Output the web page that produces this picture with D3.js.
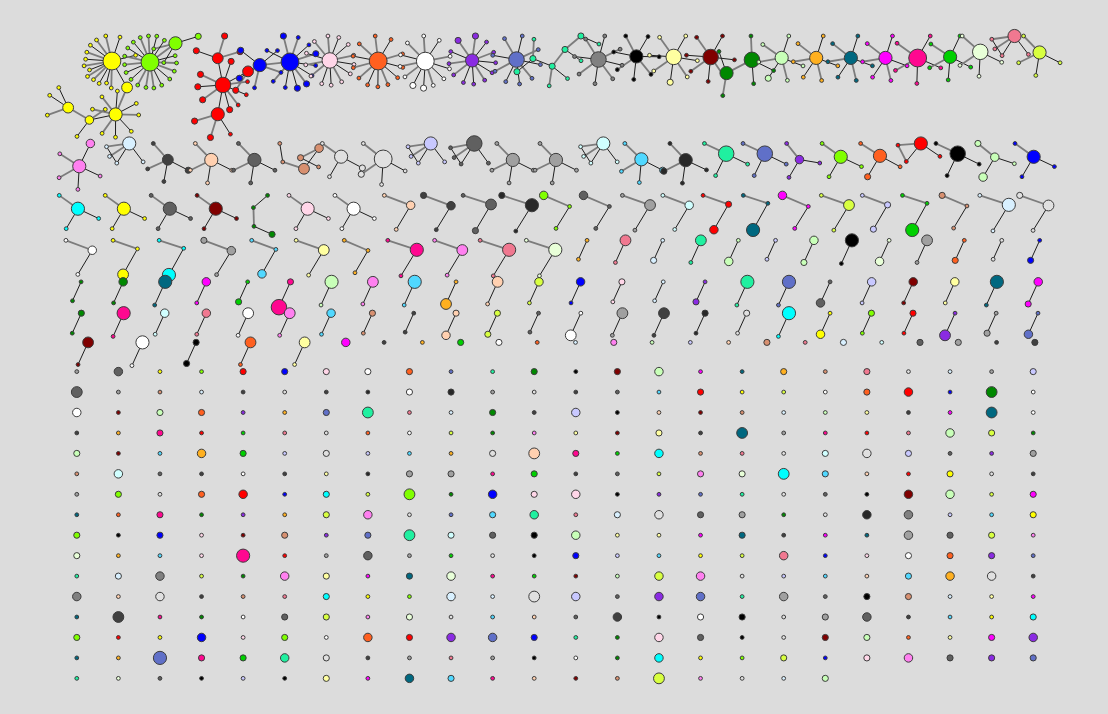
<!DOCTYPE html>
<html>
<head>
<meta charset="utf-8">
<style>
  html, body { margin: 0; padding: 0; background: #dcdcdc; }
  svg { display: block; }
  .node { stroke: #3c3c3c; stroke-width: 1; }
</style>
</head>
<body>
<div id="chart"></div>
<script src="https://cdn.jsdelivr.net/npm/d3@7"></script>
<script>
const width = 1108;
const height = 714;

// colour categories used by the nodes
const categories = ["Y","L","R","B","P","O","W","V","S","A","G","g","K","y","l","M","o","T","m","D",
  "E","h","s","Z","v","b","d","p","n","w","a","c","k","e","j","i","f"];
const categoryColors = ["#ffff00","#80ff00","#ff0000","#0000ff","#ffd6e8","#ff6020","#ffffff","#8a2be2",
  "#6070c8","#20f0a0","#008800","#808080","#000000","#ffffa0","#c8ffb8","#800000","#ffb020","#006880",
  "#ff00ff","#ff0890","#00d000","#e8ffd8","#f07890","#d8ff40","#ff80f0","#d8f0ff","#404040","#ffd0b0",
  "#d89070","#e0e0e0","#c8c8ff","#00ffff","#50d8ff","#a0a0a0","#282828","#d0ffff","#606060"];

// large clusters: colour, then hubs "size:leafSizes" chained in order ("^" = joined to first hub),
// "~sizes" = a chain of nodes, "t" = first two leaves also joined
const largeClusters = [
  "Y 7:11111111111111 4: 5:11111111 3:11 4:111",
  "L 5:112 7:111111111111111111",
  "R 6:22122121 5:212 ^4:2 ^4:222",
  "B 7:22111212111 5:11212",
  "P 6:1111111111111",
  "O 7:111111111111",
  "W 7:211111112111",
  "V 5:121111111211",
  "S 6:111111111",
  "A 2:1 2:1 2:11 2:1 2:",
  "g 6:11111111",
  "K 5:1111111",
  "y 6:2111111",
  "M 6:1111111",
  "G 6:111 5:11",
  "l 5:211111",
  "o 5:111111",
  "T 5:111111",
  "m 5:111111",
  "D 7:11111",
  "E 5:11111",
  "h 6:1111",
  "s 5:1111 t",
  "Z 5:1111"
];

const smallClusters = [
  "v 5:11113", "b 5:1111 t", "d 4:1121", "p 5:1111", "f 5:1111", "n ~123411",
  "w 5:112", "w 7:1112", "a 5:1111 t", "f 6:1111 t", "e 5:1111", "e 5:1111",
  "i 5:1111 t", "k 5:1121", "j 5:1112", "A 6:111", "S 6:111", "V 3:111",
  "L 5:111", "O 5:211", "R 5:111 t", "K 6:111", "l 3:321", "B 5:111",
  "c 5:111", "Y 5:111", "f 5:111", "M 5:111", "G ~2111", "P 5:111", "W 5:111"
];

// three-node components: colour, hub size, lower leaf size, upper leaf size
const triads = [
  "p 3 1 1", "d 3 1 2", "f 4 2 1", "j 5 1 2", "L 1 1 3", "f 1 1 3", "e 4 1 1", "i 3 1 1", "R 2 3 1",
  "T 1 5 1", "m 1 1 3", "Z 4 1 1", "a 2 2 1", "E 1 5 1", "n 1 1 2", "b 5 1 1", "w 4 1 2",
  "W 3 1 1", "Y 1 4 1", "c 1 5 1", "e 3 1 2", "k 1 3 1", "y 4 1 1", "o 1 1 1", "D 5 1 1",
  "v 4 1 1", "s 5 1 1", "h 5 1 1"
];

// two-node components: colour, upper node size, lower node size
const pairs = [
  "o 1 1", "s 4 1", "b 1 2", "A 4 1", "l 1 3", "a 1 1", "l 3 2", "K 5 1", "h 1 3", "e 4 1", "O 1 2", "w 1 1", "B 1 2",
  "G 1 1", "G 3 1", "T 5 1", "m 3 1", "E 1 2", "D 2 6", "l 5 1", "v 4 1", "k 5 1", "o 1 4", "p 4 1", "Z 3 1",
  "B 3 1", "P 2 1", "b 1 1", "V 1 2", "A 5 1", "S 5 1", "f 1 3", "a 3 1", "M 3 1", "y 3 1", "T 5 1", "m 3 2",
  "G 2 1", "D 5 1", "i 3 1", "s 3 1", "W 4 1", "v 4 1", "k 3 1", "n 2 1", "d 1 1", "p 2 3", "Z 2 2", "f 1 1",
  "W 1 4", "e 4 1", "d 4 1", "j 2 1", "w 2 1", "c 5 1", "Y 1 3", "L 2 1", "R 2 1", "V 1 4", "e 1 2", "S 1 3",
  "M 4 1", "W 5 1", "K 2 2", "O 4 1", "y 4 1"
];

// isolated nodes: colour + size
const singletonRows = [
  "m3 d1 o1 E2 W2 O1 b1 v2 l1 a1 p1 n2 s1 b2 i1 f2 e2 d1 d2",
  "e1 f3 Y1 L1 R2 B2 P2 W2 O2 S1 A1 G2 K1 M2 l3 m1 T1 o2 n1 s2 w1 b1 e1 a2",
  "f4 e1 n1 b1 d1 w1 d1 j1 W2 j2 e1 w1 d1 f1 k1 R2 Y1 Z1 W1 O2 R3 B1 G4 W1",
  "W3 M1 l2 O2 V1 o1 S2 A4 s1 b1 G2 d1 a3 K1 p1 M1 n1 b1 l1 y1 d1 m1 T4 W1",
  "d1 o1 D2 R1 E1 s1 w1 O1 W1 Z1 G1 v1 y1 M1 y2 d1 T4 e1 D1 R1 s1 l3 Z2 G1",
  "l2 M1 k1 o3 E2 a1 w2 a1 k1 o1 w2 p4 D2 E1 c3 n1 s1 w1 i2 w3 a2 f1 V1 e2",
  "n1 i3 f1 d1 W1 d1 y1 j1 e2 e2 D1 E2 d1 f1 Z1 v2 h2 c4 k2 p1 R1 Y2 w1 d1",
  "e1 L2 w1 O2 R3 B1 c2 Z1 L4 G1 B3 P2 P3 K1 V1 S1 A1 w1 f1 K1 M3 l3 Z1 m2",
  "T1 O1 D2 G1 V1 o1 Z2 v3 w1 S1 k2 A3 s1 b2 w3 f2 e2 G1 w1 j3 g3 a1 k1 Y2",
  "L2 K1 B2 P1 M1 n2 V1 S2 A4 i2 f2 K2 l3 y1 y1 m1 T2 d1 m1 T1 e3 f2 Z2 v1",
  "h2 o1 k1 P1 D5 R1 e1 f3 e1 E1 w1 K1 B2 a1 k1 Y1 Z1 s3 B1 P1 W2 O2 V2 S1",
  "A1 b2 g3 Z1 G1 v3 y2 m1 T2 h3 D1 E1 M1 l1 Z3 v3 w1 a1 k1 p1 k2 o3 w3 d1",
  "g3 p1 w3 d1 n1 s1 c2 Y1 L1 b3 b1 w4 a3 f1 V3 S3 A1 e3 f1 K2 n2 b1 y1 m1",
  "T1 d4 D1 G1 W1 f2 Z2 v1 h2 w1 k1 p1 f1 d3 K1 W2 K2 w1 e2 f3 d1 k1 Y1 c2",
  "L2 R1 Y1 B3 P1 L2 W1 O3 R2 V3 S3 B2 A1 G1 P3 f2 K1 w1 M2 l2 O1 y1 m2 V3",
  "T1 o1 S5 D2 E2 A3 w2 d1 e1 s1 e1 K1 W1 G1 c3 Y1 L1 Z2 B1 P2 v3 f2 V2 S2",
  "A1 h1 f1 K1 a1 K1 y2 m1 T3 k2 D1 p1 M1 n1 Z4 v1 w1 b1 l2"
];

const color = d3.scaleOrdinal().domain(categories).range(categoryColors);
const radius = d3.scaleLinear().domain([1, 8]).range([1.9, 10.1]);

function buildCluster(spec) {
  const [cat, ...tokens] = spec.split(" ");
  const nodes = [], links = [];
  let firstHub = -1, prevHub = -1, triangle = false;
  const firstLeaves = [];
  tokens.forEach(tok => {
    if (tok === "t") { triangle = true; return; }
    if (tok[0] === "~") {
      let prev = -1;
      for (const ch of tok.slice(1)) {
        const id = nodes.length;
        nodes.push({cat, size: +ch});
        if (prev >= 0) links.push({source: prev, target: id});
        prev = id;
      }
      return;
    }
    const toFirst = tok[0] === "^";
    const [hubSize, leaves] = tok.replace("^", "").split(":");
    const hub = nodes.length;
    nodes.push({cat, size: +hubSize});
    if (prevHub >= 0) links.push({source: toFirst ? firstHub : prevHub, target: hub});
    if (firstHub < 0) firstHub = hub;
    prevHub = hub;
    for (const ch of leaves || "") {
      const id = nodes.length;
      nodes.push({cat, size: +ch});
      links.push({source: hub, target: id});
      if (hub === firstHub) firstLeaves.push(id);
    }
  });
  if (triangle) links.push({source: firstLeaves[0], target: firstLeaves[1]});
  return {nodes, links};
}

function buildStar(spec) {
  const [cat, ...sizes] = spec.split(" ");
  const nodes = sizes.map(s => ({cat, size: +s}));
  const links = nodes.slice(1).map((d, i) => ({source: 0, target: i + 1}));
  return {nodes, links};
}

const components = [
  ...largeClusters.map(buildCluster),
  ...smallClusters.map(buildCluster),
  ...triads.map(buildStar),
  ...pairs.map(buildStar),
  ...singletonRows.join(" ").split(" ").map(t => ({nodes: [{cat: t[0], size: +t.slice(1)}], links: []}))
];

// lay out every component on its own, then tilt them all the same way
const tilt = -38.4 * Math.PI / 180;
components.forEach(comp => {
  const n = comp.nodes.length;
  comp.nodes.forEach(d => d.r = radius(d.size));
  if (n > 1) {
    const base = n === 2 ? 17 : n === 3 ? 22 : 14;
    const sim = d3.forceSimulation(comp.nodes)
      .force("link", d3.forceLink(comp.links)
        .distance(l => base + l.source.r + l.target.r)
        .strength(1)
        .iterations(2))
      .stop();
    if (n > 3) {
      sim.force("charge", d3.forceManyBody().strength(-12).distanceMax(34))
        .force("collide", d3.forceCollide(d => d.r + 1.5));
    }
    sim.tick(300);
  } else {
    comp.nodes[0].x = 0;
    comp.nodes[0].y = 0;
  }
  comp.nodes.forEach(d => {
    const x = d.x, y = d.y;
    d.x = x * Math.cos(tilt) - y * Math.sin(tilt);
    d.y = x * Math.sin(tilt) + y * Math.cos(tilt);
  });
  [comp.x0, comp.x1] = d3.extent(comp.nodes, d => d.x);
  [comp.y0, comp.y1] = d3.extent(comp.nodes, d => d.y);
});

// rows of 24, slot width grows with sqrt of the component size
const perRow = 24;
const xLeft = 56, xRight = 1054;
let rowTop = 36;
let unit = 0;
d3.range(0, components.length, perRow).forEach(start => {
  const row = components.slice(start, start + perRow);
  const weights = row.map(c => Math.sqrt(c.nodes.length));
  if (row.length === perRow) unit = (xRight - xLeft) / d3.sum(weights);
  let x = xLeft;
  row.forEach((c, i) => {
    const w = weights[i] * unit;
    c.ox = x + w / 2 - (c.x0 + c.x1) / 2;
    c.oy = rowTop - c.y0;
    x += w;
  });
  rowTop += Math.max(20.45, d3.max(row, c => c.y1 - c.y0) + 6);
});

const allNodes = [], allLinks = [];
components.forEach(c => {
  c.nodes.forEach(d => { d.px = d.x + c.ox; d.py = d.y + c.oy; allNodes.push(d); });
  c.links.forEach((l, i) => { l.k = i; allLinks.push(l); });
});

const svg = d3.select("#chart")
  .append("svg")
  .attr("width", width)
  .attr("height", height);

svg.append("rect")
  .attr("width", width)
  .attr("height", height)
  .attr("fill", "#dcdcdc");

svg.append("g")
  .selectAll("line")
  .data(allLinks)
  .join("line")
  .attr("x1", d => d.source.px)
  .attr("y1", d => d.source.py)
  .attr("x2", d => d.target.px)
  .attr("y2", d => d.target.py)
  .attr("stroke", d => d.k % 2 ? "#7c7c7c" : "#1e1e1e")
  .attr("stroke-width", d => d.k % 2 ? 1.8 : 1);

svg.append("g")
  .selectAll("circle")
  .data(allNodes)
  .join("circle")
  .attr("class", "node")
  .attr("cx", d => d.px)
  .attr("cy", d => d.py)
  .attr("r", d => d.r)
  .attr("fill", d => color(d.cat));
</script>
</body>
</html>
